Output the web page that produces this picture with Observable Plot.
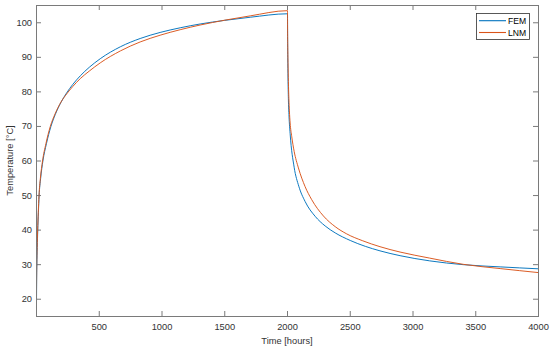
<!DOCTYPE html>
<html>
<head>
<meta charset="utf-8">
<script src="https://cdn.jsdelivr.net/npm/d3@7"></script>
<script src="https://cdn.jsdelivr.net/npm/@observablehq/plot@0.6"></script>
<style>
  html, body { margin: 0; padding: 0; background: #fff; }
</style>
</head>
<body>
<div id="chart"></div>
<script>
// Series
const seriesNames = ["FEM", "LNM"];
const seriesColors = ["#0072BD", "#D95319"];

const timeFEM = [0, 1, 3, 6, 10, 15, 21, 33, 51, 79, 115, 150, 195, 240, 290, 349, 420, 508, 668, 826, 985, 1145, 1304, 1500, 1703, 2000,
  2000.5, 2001, 2002, 2004, 2007, 2012, 2021, 2053, 2090, 2140, 2220, 2300, 2380, 2500, 2620, 2737, 2897, 3133, 3400, 3700, 4000];
const tempFEM = [17.5, 25, 30, 35, 40, 45, 50, 55, 60, 65, 70, 73.5, 76.97, 79.7, 82.2, 84.65, 87.1, 89.6, 93.05, 95.45, 97.2, 98.55, 99.65, 100.7, 101.6, 102.6,
  97, 94, 90, 84, 78, 73, 67.9, 58.2, 52.7, 48.3, 44.0, 41.2, 39.2, 37.0, 35.3, 34.0, 32.6, 31.1, 30.0, 29.35, 28.8];

const timeLNM = [0, 2, 5, 9, 14, 20, 31, 48, 75, 110, 150, 195, 240, 290, 349, 420, 508, 668, 826, 985, 1145, 1304, 1500, 1703, 2000,
  2000.5, 2001, 2002, 2004, 2007, 2011, 2015, 2021, 2034, 2053, 2087, 2140, 2193, 2286, 2380, 2472, 2600, 2737, 2897, 3133, 3400, 3700, 4000];
const tempLNM = [22, 30, 35, 40, 45, 50, 55, 60, 65, 70, 73.8, 77.05, 79.4, 81.6, 83.85, 86.0, 88.4, 91.85, 94.45, 96.4, 98.0, 99.35, 100.75, 102.0, 103.5,
  99.5, 97, 93.5, 88.5, 83, 78, 74.5, 71, 67.0, 62.8, 58.0, 52.6, 48.8, 44.1, 41.0, 38.9, 36.9, 35.2, 33.65, 31.9, 30.1, 28.85, 27.7];

const xTicks = [500, 1000, 1500, 2000, 2500, 3000, 3500, 4000];
const yTicks = [20, 30, 40, 50, 60, 70, 80, 90, 100];
const xDomain = [0, 4000];
const yDomain = [15, 105];

const xLabel = "Time [hours]";
const yLabel = "Temperature [°C]";

// Build table
const rows = [];
timeFEM.forEach((t, i) => rows.push({series: "FEM", t, v: tempFEM[i]}));
timeLNM.forEach((t, i) => rows.push({series: "LNM", t, v: tempLNM[i]}));

const W = 550, H = 349;
const mL = 36, mR = 12, mT = 5, mB = 33;
const axisColor = "#7a7a7a";
const textColor = "#333333";
const font = "'Liberation Sans', Arial, Helvetica, sans-serif";
const fs = 9.3;

// tick length of 5px expressed in data units
const xTickLen = 5 * (xDomain[1] - xDomain[0]) / (W - mL - mR);
const yTickLen = 5 * (yDomain[1] - yDomain[0]) / (H - mT - mB);

const plot = Plot.plot({
  width: W,
  height: H,
  marginLeft: mL,
  marginRight: mR,
  marginTop: mT,
  marginBottom: mB,
  style: {fontFamily: font, fontSize: fs + "px", color: textColor, background: "#fff"},
  x: {domain: xDomain},
  y: {domain: yDomain},
  color: {domain: seriesNames, range: seriesColors},
  marks: [
    Plot.axisX(xTicks, {tickSize: 0, tickPadding: 7, label: null, fill: textColor, tickFormat: d => String(d)}),
    Plot.axisY(yTicks, {tickSize: 0, tickPadding: 4.5, label: null, fill: textColor, tickFormat: d => String(d)}),
    // inward ticks (bottom/top)
    Plot.ruleX(xTicks, {x: d => d, y1: yDomain[0], y2: yDomain[0] + yTickLen, stroke: axisColor, strokeWidth: 1}),
    Plot.ruleX(xTicks, {x: d => d, y1: yDomain[1], y2: yDomain[1] - yTickLen, stroke: axisColor, strokeWidth: 1}),
    // inward ticks (left/right)
    Plot.ruleY(yTicks, {y: d => d, x1: xDomain[0], x2: xDomain[0] + xTickLen, stroke: axisColor, strokeWidth: 1}),
    Plot.ruleY(yTicks, {y: d => d, x1: xDomain[1], x2: xDomain[1] - xTickLen, stroke: axisColor, strokeWidth: 1}),
    Plot.line(rows, {x: "t", y: "v", z: "series", stroke: "series", strokeWidth: 0.95, curve: "monotone-x"}),
    Plot.frame({stroke: axisColor, strokeWidth: 1})
  ]
});

const svg = d3.select(plot);
// axis titles
svg.append("text")
  .attr("x", (mL + W - mR) / 2).attr("y", 344)
  .attr("text-anchor", "middle")
  .attr("font-family", font).attr("font-size", fs)
  .attr("fill", textColor)
  .text(xLabel);
svg.append("text")
  .attr("transform", `translate(12.5, ${(mT + H - mB) / 2}) rotate(-90)`)
  .attr("text-anchor", "middle")
  .attr("font-family", font).attr("font-size", fs)
  .attr("fill", textColor)
  .text(yLabel);

// legend
const lg = svg.append("g");
lg.append("rect")
  .attr("x", 476.5).attr("y", 13.5).attr("width", 53).attr("height", 26)
  .attr("fill", "#fff").attr("stroke", "#303030").attr("stroke-width", 0.8);
seriesNames.forEach((name, i) => {
  const yy = 20.7 + i * 11.8;
  lg.append("line")
    .attr("x1", 479).attr("x2", 506).attr("y1", yy).attr("y2", yy)
    .attr("stroke", seriesColors[i]).attr("stroke-width", 1.1);
  lg.append("text")
    .attr("x", 508).attr("y", yy).attr("dy", "0.35em")
    .attr("text-anchor", "start")
    .attr("font-family", font).attr("font-size", 8.6)
    .attr("fill", "#000")
    .text(name);
});

document.getElementById("chart").appendChild(plot);
</script>
</body>
</html>
